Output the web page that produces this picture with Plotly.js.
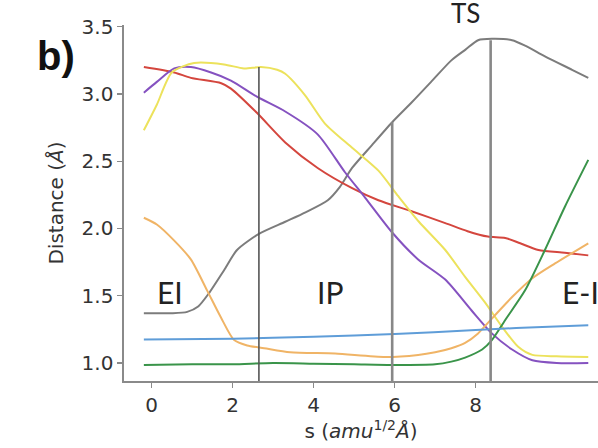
<!DOCTYPE html>
<html>
<head>
<meta charset="utf-8">
<script src="https://cdn.plot.ly/plotly-3.0.1.min.js"></script>
<style>html,body{margin:0;padding:0;background:#fff;}#chart{width:598px;height:448px;}</style>
</head>
<body>
<div id="chart"></div>
<script>
// Reaction coordinate s (amu^1/2 Å) and distances (Å) for each bond
const sGray   = [-0.19, 0.5, 0.88, 1.15, 1.42, 1.79, 2.11, 2.65, 3.3, 3.8, 4.35, 4.65, 4.95, 5.44, 5.94, 6.43, 6.9, 7.4, 7.75, 8.06, 8.4, 8.9, 9.22, 9.71, 10.38, 10.78];
const dGray   = [1.37, 1.37, 1.38, 1.42, 1.52, 1.69, 1.84, 1.96, 2.05, 2.12, 2.21, 2.31, 2.45, 2.62, 2.79, 2.94, 3.09, 3.25, 3.33, 3.40, 3.41, 3.40, 3.36, 3.28, 3.18, 3.12];

const sRed    = [-0.19, 0.56, 0.97, 1.72, 1.96, 2.6, 3.3, 4.1, 4.95, 5.6, 6.4, 7.25, 7.8, 8.3, 8.73, 9.1, 9.55, 10.2, 10.78];
const dRed    = [3.20, 3.16, 3.12, 3.08, 3.04, 2.86, 2.64, 2.45, 2.30, 2.21, 2.13, 2.04, 1.98, 1.94, 1.93, 1.89, 1.84, 1.82, 1.80];

const sPurple = [-0.19, 0.13, 0.56, 0.97, 1.47, 1.96, 2.6, 3.3, 4.1, 4.77, 5.27, 5.94, 6.58, 7.25, 7.9, 8.4, 8.9, 9.4, 10.0, 10.78];
const dPurple = [3.01, 3.09, 3.19, 3.20, 3.16, 3.10, 2.98, 2.87, 2.70, 2.42, 2.23, 1.97, 1.77, 1.62, 1.39, 1.22, 1.10, 1.02, 1.00, 1.00];

const sYellow = [-0.19, 0.13, 0.5, 1.05, 1.79, 2.28, 2.7, 3.1, 3.3, 3.79, 4.28, 4.95, 5.6, 6.09, 6.6, 7.25, 7.74, 8.23, 8.65, 9.05, 9.4, 10.0, 10.78];
const dYellow = [2.73, 2.92, 3.16, 3.23, 3.22, 3.19, 3.20, 3.18, 3.15, 2.99, 2.78, 2.60, 2.43, 2.24, 2.05, 1.84, 1.64, 1.45, 1.27, 1.12, 1.06, 1.05, 1.045];

const sOrange = [-0.19, 0.13, 0.56, 0.97, 1.37, 1.71, 2.04, 2.36, 2.78, 3.42, 4.53, 5.77, 6.58, 7.0, 7.4, 7.74, 8.06, 8.4, 8.9, 9.4, 9.96, 10.78];
const dOrange = [2.08, 2.03, 1.91, 1.77, 1.54, 1.34, 1.17, 1.13, 1.11, 1.08, 1.07, 1.045, 1.06, 1.08, 1.11, 1.15, 1.22, 1.33, 1.49, 1.63, 1.74, 1.89];

const sGreen  = [-0.19, 1.0, 2.0, 3.0, 4.0, 5.0, 6.0, 7.0, 7.4, 7.74, 8.16, 8.4, 8.73, 9.22, 9.71, 10.2, 10.78];
const dGreen  = [0.985, 0.99, 0.99, 1.0, 0.995, 0.99, 0.985, 0.99, 1.01, 1.04, 1.10, 1.17, 1.32, 1.54, 1.84, 2.16, 2.51];

const sBlue   = [-0.19, 2.0, 4.0, 6.0, 8.0, 9.0, 10.78];
const dBlue   = [1.175, 1.18, 1.195, 1.215, 1.245, 1.26, 1.28];

// Stage boundaries (s) and the height each marker line reaches
const boundaryS   = [2.65, 5.94, 8.37];
const boundaryTop = [3.20, 2.79, 3.40];
const yBottom = 0.866;

const xTicks = [0, 2, 4, 6, 8];
const yTicks = [1.0, 1.5, 2.0, 2.5, 3.0, 3.5];
const regionLabels = ["EI", "IP", "E-I", "TS"];

const series = [
  [sGray, dGray, "#7c7c7c"],
  [sRed, dRed, "#d4463e"],
  [sPurple, dPurple, "#8552c0"],
  [sYellow, dYellow, "#ece25c"],
  [sOrange, dOrange, "#f0b466"],
  [sGreen, dGreen, "#3a944a"],
  [sBlue, dBlue, "#5f9dd8"]
];

const traces = series.map(([x, y, c]) => ({
  x: x, y: y, type: "scatter", mode: "lines",
  line: {color: c, width: 2, shape: "spline", smoothing: 0.7},
  hoverinfo: "skip", showlegend: false
}));

const vStyles = [
  {color: "#555555", width: 1.6},
  {color: "#888888", width: 2.6},
  {color: "#888888", width: 2.6}
];
boundaryS.forEach((s, i) => {
  traces.push({
    x: [s, s], y: [yBottom, boundaryTop[i]], type: "scatter", mode: "lines",
    line: vStyles[i], hoverinfo: "skip", showlegend: false
  });
});

const plotW = 598 - 124, plotH = 448 - 25 - 67;
const labelFont = {family: "Lato, 'Open Sans', sans-serif", size: 30, color: "#222"};
const layout = {
  width: 598, height: 448,
  margin: {l: 124, r: 0, t: 25, b: 67},
  paper_bgcolor: "#ffffff", plot_bgcolor: "#ffffff",
  showlegend: false,
  xaxis: {
    range: [-0.68, 11.02], tickvals: xTicks, ticktext: xTicks.map(String),
    showgrid: false, zeroline: false, showline: true, linecolor: "#8a8a8a", linewidth: 1.6,
    ticks: "outside", ticklen: 5, tickwidth: 1.4, tickcolor: "#8a8a8a",
    tickfont: {family: "DejaVu Sans", size: 20, color: "#333"},
    title: {text: "s (<i>amu</i><sup>1/2</sup><i>Å</i>)", font: {family: "DejaVu Sans", size: 20, color: "#333"}, standoff: 8}
  },
  yaxis: {
    range: [yBottom, 3.513], tickvals: yTicks, ticktext: yTicks.map(v => v.toFixed(1)),
    showgrid: false, zeroline: false, showline: true, linecolor: "#8a8a8a", linewidth: 1.6,
    ticks: "outside", ticklen: 5, tickwidth: 1.4, tickcolor: "#8a8a8a",
    tickfont: {family: "DejaVu Sans", size: 20, color: "#333"},
    title: {text: "Distance (<i>Å</i>)", font: {family: "DejaVu Sans", size: 20, color: "#333"}, standoff: 12}
  },
  annotations: [
    {text: regionLabels[0], x: 0.46, y: 1.53, xref: "x", yref: "y", showarrow: false, font: labelFont},
    {text: regionLabels[1], x: 4.41, y: 1.53, xref: "x", yref: "y", showarrow: false, font: labelFont},
    {text: regionLabels[2], x: 10.07, y: 1.53, xref: "x", yref: "y", showarrow: false, font: labelFont, xanchor: "left"},
    {text: regionLabels[3], x: (482 - 124) / plotW, y: (381 - 31) / plotH, xref: "paper", yref: "paper",
     showarrow: false, font: {family: "Lato, 'Open Sans', sans-serif", size: 26, color: "#222"}, yanchor: "bottom"},
    {text: "<b>b)</b>", x: (35 - 124) / plotW, y: (381 - 32) / plotH, xref: "paper", yref: "paper", showarrow: false,
     font: {family: "Liberation Sans, Arial, sans-serif", size: 40, color: "#111"}}
  ]
};

Plotly.newPlot("chart", traces, layout, {displayModeBar: false, staticPlot: true});
</script>
</body>
</html>
